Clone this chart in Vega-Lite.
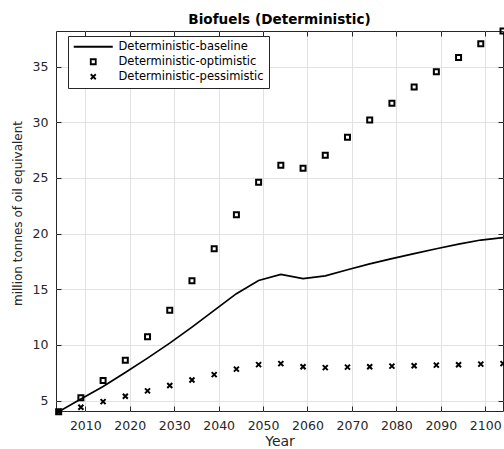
{
  "$schema": "https://vega.github.io/schema/vega-lite/v6.json",
  "autosize": "none",
  "width": 447,
  "height": 380,
  "padding": {"left": 56, "top": 31, "right": 1, "bottom": 38},
  "background": "white",
  "title": {"text": "Biofuels (Deterministic)", "font": "DejaVu Sans", "fontSize": 13.6, "fontWeight": "bold", "color": "black", "frame": "group", "anchor": "middle", "offset": -2},
  "config": {
    "view": {"stroke": "#262626", "strokeWidth": 1},
    "axis": {"labelFont": "DejaVu Sans", "labelFontSize": 12.5, "labelColor": "#262626", "titleFont": "DejaVu Sans", "titleColor": "#262626", "titleFontWeight": "normal", "domain": false, "tickColor": "#262626", "gridColor": "#e2e2e2", "gridWidth": 1}
  },
  "data": {"values": [
    {"year": 2004, "series": "Deterministic-baseline", "value": 4.0},
    {"year": 2009, "series": "Deterministic-baseline", "value": 5.13},
    {"year": 2014, "series": "Deterministic-baseline", "value": 6.26},
    {"year": 2019, "series": "Deterministic-baseline", "value": 7.52},
    {"year": 2024, "series": "Deterministic-baseline", "value": 8.81},
    {"year": 2029, "series": "Deterministic-baseline", "value": 10.16},
    {"year": 2034, "series": "Deterministic-baseline", "value": 11.6},
    {"year": 2039, "series": "Deterministic-baseline", "value": 13.1},
    {"year": 2044, "series": "Deterministic-baseline", "value": 14.6},
    {"year": 2049, "series": "Deterministic-baseline", "value": 15.78},
    {"year": 2054, "series": "Deterministic-baseline", "value": 16.33},
    {"year": 2059, "series": "Deterministic-baseline", "value": 15.95},
    {"year": 2064, "series": "Deterministic-baseline", "value": 16.2},
    {"year": 2069, "series": "Deterministic-baseline", "value": 16.75},
    {"year": 2074, "series": "Deterministic-baseline", "value": 17.28},
    {"year": 2079, "series": "Deterministic-baseline", "value": 17.75},
    {"year": 2084, "series": "Deterministic-baseline", "value": 18.2},
    {"year": 2089, "series": "Deterministic-baseline", "value": 18.64},
    {"year": 2094, "series": "Deterministic-baseline", "value": 19.05},
    {"year": 2099, "series": "Deterministic-baseline", "value": 19.42},
    {"year": 2104, "series": "Deterministic-baseline", "value": 19.64},
    {"year": 2004, "series": "Deterministic-optimistic", "value": 4.0},
    {"year": 2009, "series": "Deterministic-optimistic", "value": 5.24},
    {"year": 2014, "series": "Deterministic-optimistic", "value": 6.8},
    {"year": 2019, "series": "Deterministic-optimistic", "value": 8.62},
    {"year": 2024, "series": "Deterministic-optimistic", "value": 10.72},
    {"year": 2029, "series": "Deterministic-optimistic", "value": 13.11},
    {"year": 2034, "series": "Deterministic-optimistic", "value": 15.76},
    {"year": 2039, "series": "Deterministic-optimistic", "value": 18.64},
    {"year": 2044, "series": "Deterministic-optimistic", "value": 21.7},
    {"year": 2049, "series": "Deterministic-optimistic", "value": 24.62},
    {"year": 2054, "series": "Deterministic-optimistic", "value": 26.14},
    {"year": 2059, "series": "Deterministic-optimistic", "value": 25.87},
    {"year": 2064, "series": "Deterministic-optimistic", "value": 27.04},
    {"year": 2069, "series": "Deterministic-optimistic", "value": 28.66},
    {"year": 2074, "series": "Deterministic-optimistic", "value": 30.21},
    {"year": 2079, "series": "Deterministic-optimistic", "value": 31.72},
    {"year": 2084, "series": "Deterministic-optimistic", "value": 33.16},
    {"year": 2089, "series": "Deterministic-optimistic", "value": 34.53},
    {"year": 2094, "series": "Deterministic-optimistic", "value": 35.83},
    {"year": 2099, "series": "Deterministic-optimistic", "value": 37.06},
    {"year": 2104, "series": "Deterministic-optimistic", "value": 38.2},
    {"year": 2004, "series": "Deterministic-pessimistic", "value": 4.0},
    {"year": 2009, "series": "Deterministic-pessimistic", "value": 4.4},
    {"year": 2014, "series": "Deterministic-pessimistic", "value": 4.9},
    {"year": 2019, "series": "Deterministic-pessimistic", "value": 5.39},
    {"year": 2024, "series": "Deterministic-pessimistic", "value": 5.87},
    {"year": 2029, "series": "Deterministic-pessimistic", "value": 6.35},
    {"year": 2034, "series": "Deterministic-pessimistic", "value": 6.85},
    {"year": 2039, "series": "Deterministic-pessimistic", "value": 7.33},
    {"year": 2044, "series": "Deterministic-pessimistic", "value": 7.82},
    {"year": 2049, "series": "Deterministic-pessimistic", "value": 8.23},
    {"year": 2054, "series": "Deterministic-pessimistic", "value": 8.32},
    {"year": 2059, "series": "Deterministic-pessimistic", "value": 8.03},
    {"year": 2064, "series": "Deterministic-pessimistic", "value": 7.96},
    {"year": 2069, "series": "Deterministic-pessimistic", "value": 8.0},
    {"year": 2074, "series": "Deterministic-pessimistic", "value": 8.03},
    {"year": 2079, "series": "Deterministic-pessimistic", "value": 8.09},
    {"year": 2084, "series": "Deterministic-pessimistic", "value": 8.12},
    {"year": 2089, "series": "Deterministic-pessimistic", "value": 8.18},
    {"year": 2094, "series": "Deterministic-pessimistic", "value": 8.21},
    {"year": 2099, "series": "Deterministic-pessimistic", "value": 8.27},
    {"year": 2104, "series": "Deterministic-pessimistic", "value": 8.32}
  ]},
  "layer": [
    {
      "transform": [{"filter": "datum.series === 'Deterministic-baseline'"}],
      "mark": {"type": "line", "color": "black", "strokeWidth": 1.7, "clip": true},
      "encoding": {
        "x": {"field": "year", "type": "quantitative", "scale": {"domain": [2003.4, 2104], "nice": false, "zero": false},
          "axis": {"orient": "bottom", "values": [2010, 2020, 2030, 2040, 2050, 2060, 2070, 2080, 2090, 2100], "format": "d", "grid": true, "tickSize": -5, "labelPadding": 13, "title": "Year", "titleFontSize": 14, "titlePadding": 3}},
        "y": {"field": "value", "type": "quantitative", "scale": {"domain": [4.06, 38.2], "nice": false, "zero": false},
          "axis": {"orient": "left", "values": [5, 10, 15, 20, 25, 30, 35], "grid": true, "tickSize": -5, "labelPadding": 13, "title": "million tonnes of oil equivalent", "titleFontSize": 12, "titlePadding": 8, "titleY": 182}}
      }
    },
    {
      "transform": [{"filter": "datum.series !== 'Deterministic-baseline'"}],
      "mark": {"type": "point", "filled": false, "strokeWidth": 2, "size": 25, "opacity": 1, "clip": false},
      "encoding": {
        "x": {"field": "year", "type": "quantitative", "axis": {"orient": "top", "values": [2010, 2020, 2030, 2040, 2050, 2060, 2070, 2080, 2090, 2100], "labels": false, "grid": false, "tickSize": -5, "title": null}},
        "y": {"field": "value", "type": "quantitative", "axis": {"orient": "right", "values": [5, 10, 15, 20, 25, 30, 35], "labels": false, "grid": false, "tickSize": -5, "title": null}},
        "color": {"field": "series", "type": "nominal",
          "scale": {"domain": ["Deterministic-baseline", "Deterministic-optimistic", "Deterministic-pessimistic"], "range": ["black", "black", "black"]},
          "legend": {"title": null, "orient": "none", "legendX": 12, "legendY": 5, "strokeColor": "#262626", "fillColor": "white", "padding": 5, "labelFont": "DejaVu Sans", "labelFontSize": 11.5, "labelColor": "black", "rowPadding": 2, "symbolStrokeWidth": 1.8, "symbolSize": 25, "symbolOffset": 14.5, "labelOffset": 19.5, "labelLimit": 300}},
        "shape": {"field": "series", "type": "nominal",
          "scale": {"domain": ["Deterministic-baseline", "Deterministic-optimistic", "Deterministic-pessimistic"], "range": ["M-7.8,0H7.8", "M-1,-1H1V1H-1Z", "M-1,-1L1,1M1,-1L-1,1"]},
          "legend": {"title": null, "orient": "none", "legendX": 12, "legendY": 5, "strokeColor": "#262626", "fillColor": "white", "padding": 5, "labelFont": "DejaVu Sans", "labelFontSize": 11.5, "labelColor": "black", "rowPadding": 2, "symbolStrokeWidth": 1.8, "symbolSize": 25, "symbolOffset": 14.5, "labelOffset": 19.5, "labelLimit": 300}}
      }
    }
  ],
  "resolve": {"axis": {"x": "independent", "y": "independent"}}
}
